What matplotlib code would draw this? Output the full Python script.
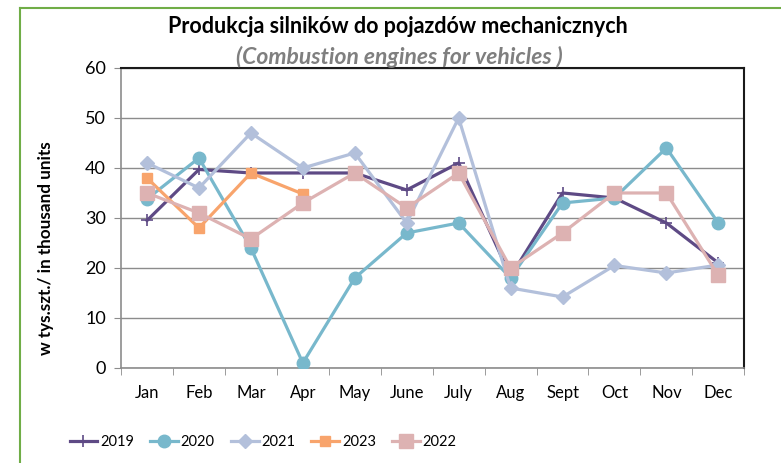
import matplotlib.pyplot as plt
from matplotlib.lines import Line2D

months = ['Jan', 'Feb', 'Mar', 'Apr', 'May', 'June', 'July', 'Aug', 'Sept', 'Oct', 'Nov', 'Dec']
y2019 = [29.5, 39.7, 39, 39, 39, 35.6, 41, 18.3, 35, 34, 29, 21]
y2020 = [33.8, 42, 24, 1, 18, 27, 29, 18, 33, 34, 44, 29]
y2021 = [41, 36, 47, 40, 43, 29, 50, 16, 14.2, 20.5, 19, 20.6]
y2023 = [38, 28, 39, 34.8]
y2022 = [35, 31, 25.8, 33, 39, 32, 39, 20, 27, 35, 35, 18.5]

plt.rcParams['font.family'] = ['Lato', 'DejaVu Sans']

fig = plt.figure(figsize=(7.81, 4.63), dpi=100)
ax = fig.add_axes([0.155, 0.2052, 0.798, 0.648])

x = list(range(len(months)))
# series styles, same order as the excel legend
ax.plot(x, y2019, color='#5E4A85', lw=2.3, marker='+', ms=9, mew=1.2, label='2019', zorder=3)
ax.plot(x, y2020, color='#78B8CC', lw=2.3, marker='o', ms=9, label='2020', zorder=4)
ax.plot(x, y2021, color='#B3C0DB', lw=2.3, marker='D', ms=7.5, label='2021', zorder=5)
ax.plot(x[:len(y2023)], y2023, color='#F8A46C', lw=2.3, marker='s', ms=7.5, label='2023', zorder=6)
ax.plot(x, y2022, color='#DDB2B2', lw=2.3, marker='s', ms=9.5, label='2022', zorder=7)

ax.set_xlim(-0.5, 11.5)
ax.set_ylim(0, 60)
ax.set_yticks(range(0, 61, 10))
ax.set_xticks(x)
ax.set_xticklabels(months)
ax.set_xticks([i - 0.5 for i in range(13)], minor=True)
ax.tick_params(axis='x', which='major', length=0, pad=12, labelsize=12)
ax.tick_params(axis='x', which='minor', length=5, color='#8C8C8C', direction='out')
ax.tick_params(axis='y', length=5, color='#8C8C8C', labelsize=13, pad=6)
ax.grid(axis='y', color='#8C8C8C', lw=1)
ax.set_axisbelow(True)
for s in ['left', 'bottom']:
    ax.spines[s].set_color('#8C8C8C')
    ax.spines[s].set_linewidth(1.2)
for s in ['top', 'right']:
    ax.spines[s].set_color('#1A1A1A')
    ax.spines[s].set_linewidth(1.5)

ax.set_ylabel('w tys.szt./ in thousand units', fontsize=12.3, fontweight='bold')
ax.yaxis.set_label_coords(-0.107, 0.4)

fig.text(0.51, 0.942, 'Produkcja silników do pojazdów mechanicznych', ha='center', va='center',
         fontsize=15.5, fontweight='bold')
fig.text(0.512, 0.877, '(Combustion engines for vehicles )', ha='center', va='center',
         fontsize=16.5, fontweight='bold', style='italic', color='#7F7F7F')

handles, labels = ax.get_legend_handles_labels()
fig.legend(handles, labels, loc='center', bbox_to_anchor=(0.337, 0.045), ncol=5, frameon=False,
           fontsize=10.5, handlelength=1.9, columnspacing=1.1, handletextpad=0.2)

# green frame of the original chart box (left and top edges visible)
fig.add_artist(Line2D([0.026, 0.026], [0, 0.983], color='#70AD47', lw=1.5, transform=fig.transFigure))
fig.add_artist(Line2D([0.026, 1], [0.983, 0.983], color='#70AD47', lw=1.5, transform=fig.transFigure))

fig.savefig('out.png', dpi=100)
